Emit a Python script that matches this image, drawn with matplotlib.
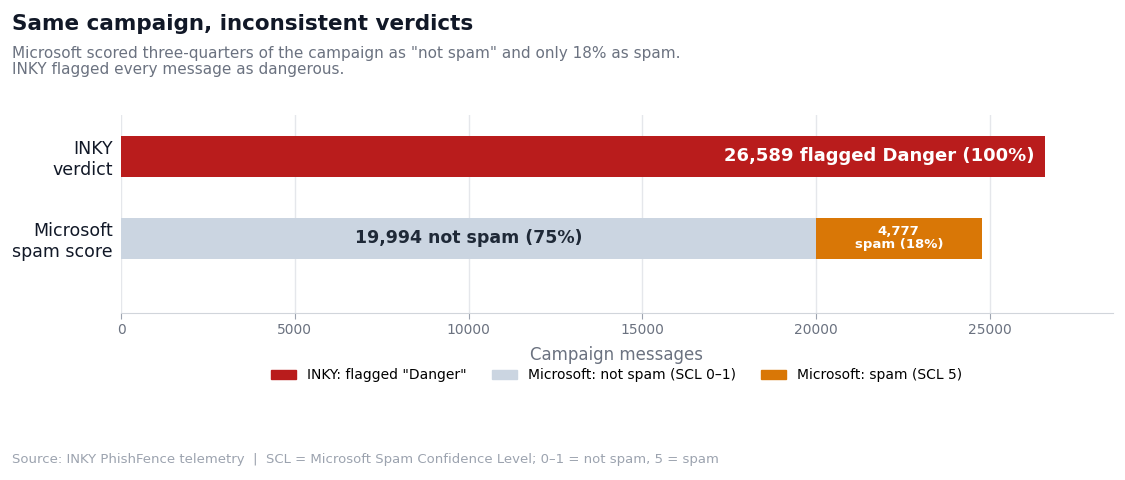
import matplotlib.pyplot as plt
from matplotlib.patches import Patch

categories = ['Microsoft\nspam score', 'INKY\nverdict']
inky_danger = 26589
ms_not_spam = 19994
ms_spam = 4777
xticks = [0, 5000, 10000, 15000, 20000, 25000]

RED = '#B91C1C'
GREY = '#CBD5E1'
ORANGE = '#D97706'

fig = plt.figure(figsize=(11.25, 4.8), dpi=100)
ax = fig.add_axes([0.1076, 0.348, 0.8815, 0.412])

ax.barh(1, inky_danger, height=0.5, color=RED, zorder=3)
ax.barh(0, ms_not_spam, height=0.5, color=GREY, zorder=3)
ax.barh(0, ms_spam, left=ms_not_spam, height=0.5, color=ORANGE, zorder=3)

ax.text(inky_danger - 300, 1, f'{inky_danger:,} flagged Danger (100%)', ha='right', va='center',
        color='white', fontsize=13, fontweight='bold', zorder=4)
ax.text(ms_not_spam / 2, 0, f'{ms_not_spam:,} not spam (75%)', ha='center', va='center',
        color='#1F2937', fontsize=12.5, fontweight='bold', zorder=4)
ax.text(ms_not_spam + ms_spam / 2, 0, f'{ms_spam:,}\nspam (18%)', ha='center', va='center',
        color='white', fontsize=9.5, fontweight='bold', linespacing=1.0, zorder=4)

ax.set_xlim(0, 28540)
ax.set_ylim(-0.915, 1.5)
ax.set_yticks([0, 1])
ax.set_yticklabels(categories, fontsize=12.5, color='#111827')
ax.set_xticks(xticks)
ax.set_xticklabels([str(t) for t in xticks])
ax.tick_params(axis='x', colors='#6B7280', labelsize=10, length=4, color='#9CA3AF')
ax.tick_params(axis='y', length=0, pad=6)
ax.grid(axis='x', color='#E5E7EB', linewidth=1, zorder=0)
for s in ['top', 'right', 'left']:
    ax.spines[s].set_visible(False)
ax.spines['bottom'].set_color('#D1D5DB')
ax.set_xlabel('Campaign messages', fontsize=12, color='#6B7280', labelpad=6)

handles = [Patch(color=RED, label='INKY: flagged "Danger"'),
           Patch(color=GREY, label='Microsoft: not spam (SCL 0\u20131)'),
           Patch(color=ORANGE, label='Microsoft: spam (SCL 5)')]
fig.legend(handles=handles, loc='center', bbox_to_anchor=(0.548, 0.218), ncol=3,
           frameon=False, fontsize=10, handlelength=1.8, columnspacing=1.8)

fig.text(0.011, 0.95, 'Same campaign, inconsistent verdicts', fontsize=15.5, fontweight='bold',
         color='#111827', va='center')
fig.text(0.011, 0.872, 'Microsoft scored three-quarters of the campaign as "not spam" and only 18% as spam.\n'
         'INKY flagged every message as dangerous.', fontsize=11, color='#6B7280', va='center',
         linespacing=1.1)
fig.text(0.011, 0.042, 'Source: INKY PhishFence telemetry  |  SCL = Microsoft Spam Confidence Level; 0\u20131 = not spam, 5 = spam',
         fontsize=9.5, color='#9CA3AF', va='center')

fig.savefig('out.png', dpi=100)
